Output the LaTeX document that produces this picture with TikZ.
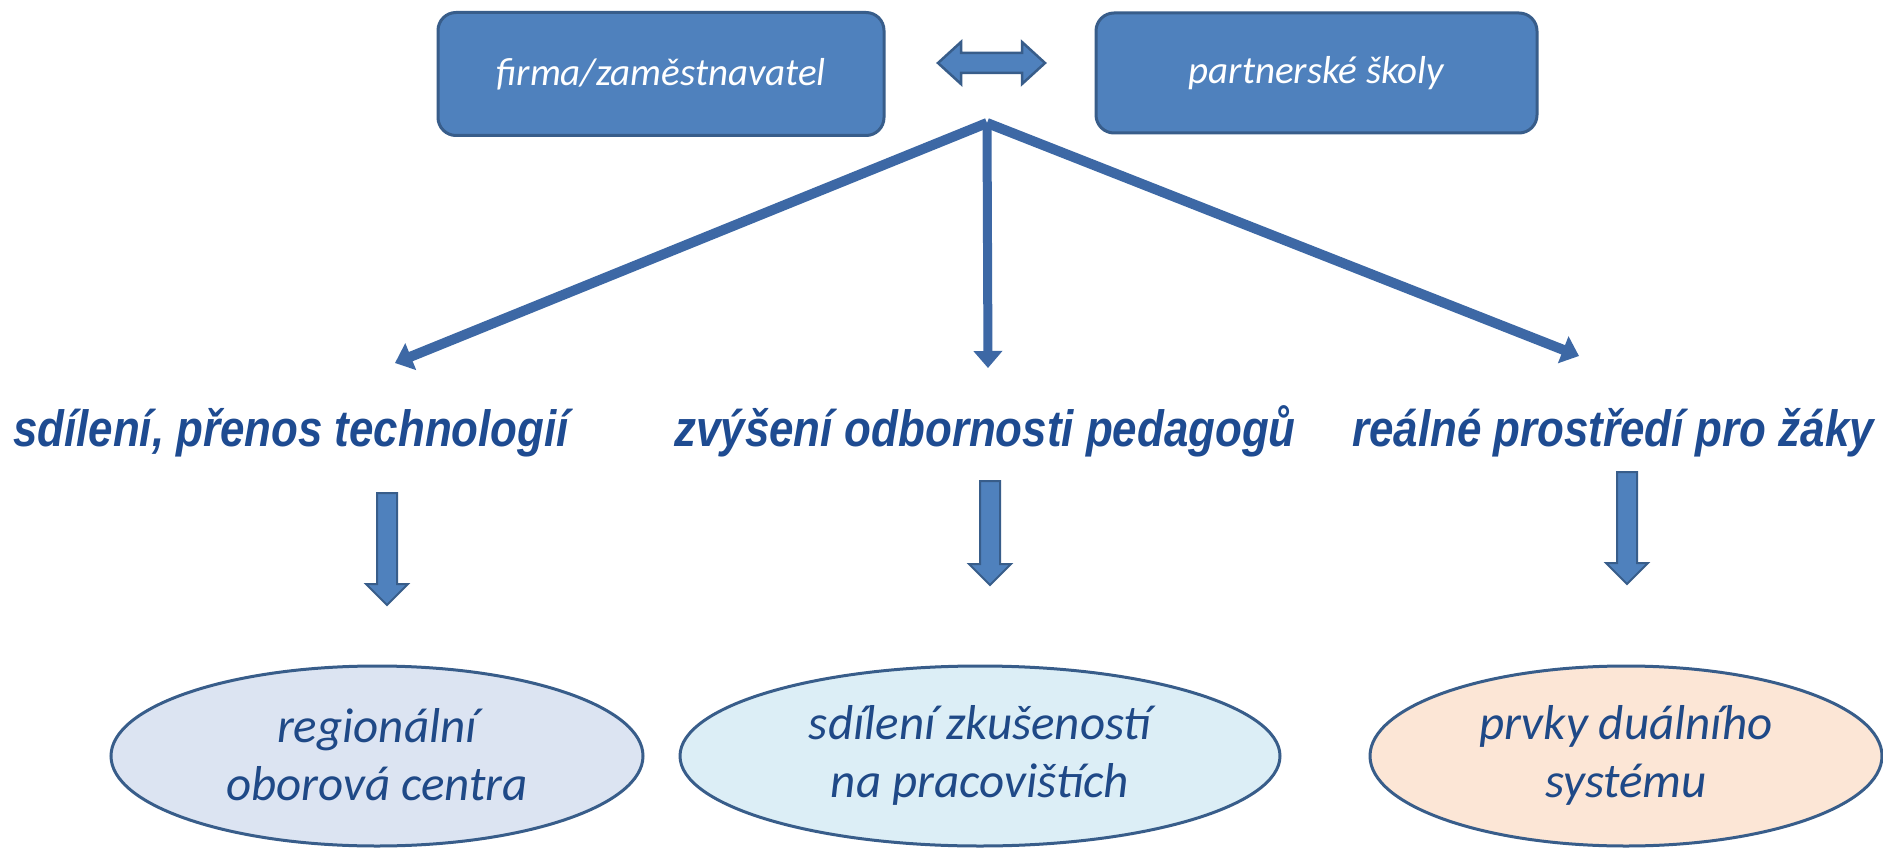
\documentclass[tikz,border=0pt]{standalone}
\usepackage{fontspec}
\usetikzlibrary{arrows.meta,shapes.geometric}
\setmainfont{Carlito}
\newfontfamily\labfont[FakeStretch=0.86]{Liberation Sans}
\definecolor{boxfill}{RGB}{79,129,189}
\definecolor{boxline}{RGB}{56,93,138}
\definecolor{fanblue}{RGB}{61,104,165}
\definecolor{labblue}{RGB}{30,75,145}
\definecolor{elltext}{RGB}{31,73,135}
\definecolor{ellA}{RGB}{220,228,242}
\definecolor{ellB}{RGB}{220,238,246}
\definecolor{ellC}{RGB}{252,230,214}
\tikzset{
  topbox/.style={draw=boxline, fill=boxfill, line width=3pt, rounded corners=18pt,
    inner sep=0pt, text=white, font=\fontsize{39}{47}\selectfont\itshape},
  lab/.style={text=labblue, inner sep=0pt, anchor=base,
    font=\labfont\fontsize{51}{60}\selectfont\bfseries\itshape},
  oval/.style={ellipse, draw=boxline, line width=3pt, inner sep=0pt,
    minimum height=180pt},
  ovaltext/.style={inner sep=0pt, align=center, text=elltext,
    font=\fontsize{49}{58}\selectfont\itshape},
  fan/.style={draw=fanblue, line width=10pt,
    -{Triangle[width=28pt,length=17pt]}},
  blk/.style={draw=boxline, fill=boxfill, line width=2pt, line join=miter}
}
\newcommand\blockdown[3]{%
  \draw[blk] (#1-10,#2) -- (#1+10,#2) -- (#1+10,#3-21) -- (#1+21,#3-21) -- (#1,#3)
    -- (#1-21,#3-21) -- (#1-10,#3-21) -- cycle;}
\begin{document}
\begin{tikzpicture}[x=1pt,y=-1pt]
\useasboundingbox (0,0) rectangle (1883,848);
\fill[white] (0,0) rectangle (1883,848);

% top boxes
\node[topbox, minimum width=446pt, minimum height=123pt] (firma) at (661,74) {firma/zaměstnavatel};
\node[topbox, minimum width=441pt, minimum height=120pt] (skoly) at (1316.5,73) {partnerské školy};

% double arrow
\draw[blk, line width=2.5pt] (938,63) -- (961,42) -- (961,53) -- (1022,53) -- (1022,42)
  -- (1045,63) -- (1022,84) -- (1022,73) -- (961,73) -- (961,84) -- cycle;

% fan
\coordinate (apex) at (987,123);
\coordinate (tl) at (395,363);
\coordinate (tc) at (988,368);
\coordinate (tr) at (1579,356);
\draw[fan] (apex) -- (tl);
\draw[fan] (apex) -- (tr);
\draw[fan, line width=9pt] (apex) -- (tc);

% labels
\node[lab] (l1) at (291,446) {sdílení, přenos technologií};
\node[lab] (l2) at (985,446) {zvýšení odbornosti pedagogů};
\node[lab] (l3) at (1613,446) {reálné prostředí pro žáky};

% down block arrows
\blockdown{387}{493}{605}
\blockdown{990}{481}{585}
\blockdown{1627}{472}{584}

% ellipses
\node[oval, fill=ellA, minimum width=532pt] (e1) at (377,756) {};
\node[oval, fill=ellB, minimum width=600pt] (e2) at (980,756) {};
\node[oval, fill=ellC, minimum width=512pt] (e3) at (1626,756) {};
\node[ovaltext] (t1) at (377,755) {regionální\\oborová centra};
\node[ovaltext] (t2) at (980,755) {sdílení zkušeností\\na pracovištích};
\node[ovaltext] (t3) at (1626,755) {prvky duálního\\systému};
\end{tikzpicture}
\end{document}
